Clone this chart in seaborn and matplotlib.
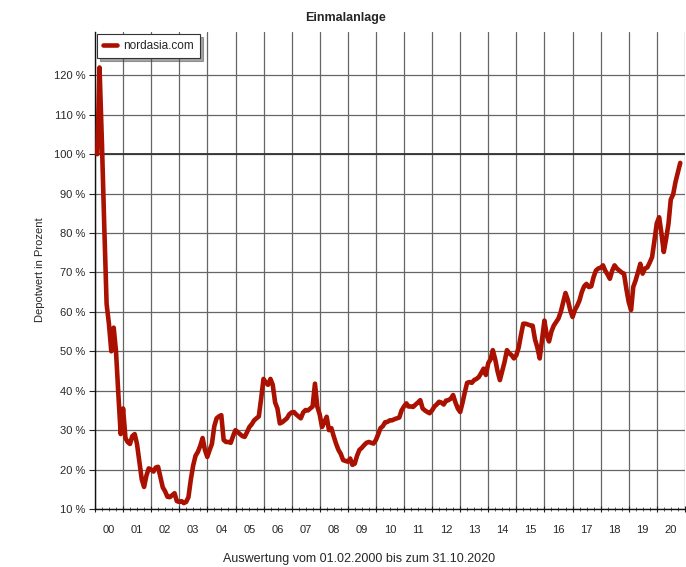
import numpy as np
import pandas as pd
import matplotlib
matplotlib.use("Agg")
import matplotlib.pyplot as plt
import matplotlib.dates as mdates
from matplotlib.ticker import FuncFormatter, NullFormatter
import seaborn as sns

# monthly values (Depotwert in %), month ends from 31.01.2000 to 31.10.2020
v2000 = [100, 122, 103, 82, 62, 57, 50, 56, 50, 39, 29]
v2001 = [35.5, 28, 27, 26.5, 28.5, 29, 26.5, 22, 17.5, 15.6, 18.5, 20.3]
v2002 = [20, 19.5, 20.5, 20.7, 18.2, 15.5, 14.5, 13.1, 13, 13.5, 14, 12]
v2003 = [11.8, 12, 11.5, 11.8, 13, 17.5, 21, 23.5, 24.5, 26, 28, 25]
v2004 = [23.2, 25, 26.5, 31, 33, 33.5, 33.8, 27.5, 27, 27, 26.8, 28.5]
v2005 = [30, 29.5, 29, 28.5, 28.3, 29.5, 30.8, 31.5, 32.5, 33, 33.5, 38]
v2006 = [43, 42, 41.5, 43, 41.5, 37, 35.5, 31.7, 32, 32.5, 33, 34]
v2007 = [34.5, 34.6, 34, 33.5, 33, 34.5, 35.1, 35, 35.5, 36, 41.8, 36]
v2008 = [34, 30.8, 32, 33.4, 30, 30.5, 28.5, 26.6, 25, 24, 22.4, 22.2]
v2009 = [22, 22.8, 21.2, 21.5, 23.5, 25, 25.5, 26.2, 26.8, 27, 26.8, 26.6]
v2010 = [27.5, 29, 30.5, 31, 32, 32.1, 32.5, 32.5, 32.8, 33, 33.2, 35]
v2011 = [36, 36.8, 36, 36, 35.9, 36.5, 37, 37.6, 35.5, 35, 34.6, 34.3]
v2012 = [35, 36, 36.5, 37.2, 37, 36.5, 37.5, 37.6, 38, 38.9, 37, 35.5]
v2013 = [34.6, 37, 39.5, 42, 42.2, 42, 42.7, 43, 43.5, 44.5, 45.6, 44]
v2014 = [47, 48, 50.3, 48, 45, 42.7, 45, 47.3, 50.3, 49.5, 49, 48.2]
v2015 = [49, 51, 54, 57, 57, 56.8, 56.6, 56.5, 53, 51, 48.2, 53]
v2016 = [57.8, 54, 52.5, 55, 56.5, 57.4, 58.3, 60, 62.5, 64.8, 63, 60.5]
v2017 = [58.7, 60.5, 61.5, 62.9, 65, 66.5, 67.1, 66.3, 66.5, 68.8, 70.5, 71]
v2018 = [71.2, 71.8, 70.5, 69.5, 68.4, 70.5, 71.8, 71, 70.5, 70, 69.7, 65.9]
v2019 = [62.5, 60.5, 66.3, 68, 70, 72.2, 69.7, 71, 71.3, 72.5, 73.9, 78]
v2020 = [82.5, 84, 80, 75.2, 78.5, 82.3, 88.5, 89.8, 93, 95.4, 97.8]

values = (v2000 + v2001 + v2002 + v2003 + v2004 + v2005 + v2006 + v2007 + v2008
          + v2009 + v2010 + v2011 + v2012 + v2013 + v2014 + v2015 + v2016
          + v2017 + v2018 + v2019 + v2020)
dates = pd.date_range("2000-01-31", "2020-10-31", freq="ME")
df = pd.DataFrame({"Datum": dates, "Depotwert": values})

y_ticks = list(range(10, 130, 10))

sns.set_style("white")
plt.rcParams["font.family"] = ["Liberation Sans", "DejaVu Sans"]

fig = plt.figure(figsize=(6.86, 5.67), dpi=100)
ax = fig.add_axes([95 / 686, 1 - 509 / 567, 590 / 686, (509 - 32) / 567])

sns.lineplot(data=df, x="Datum", y="Depotwert", ax=ax, color="#aa1100",
             lw=3.3, label="nordasia.com", solid_capstyle="round", zorder=3)

# y axis
ax.set_ylim(10, 131)
ax.set_yticks(y_ticks)
ax.yaxis.set_major_formatter(FuncFormatter(lambda v, p: f"{v:.0f} %"))
ax.tick_params(axis="y", which="major", length=4, width=0.8, color="#222",
               labelsize=8, pad=3, left=True)

# x axis: year lines, quarter ticks, labels mid-year
ax.set_xlim(pd.Timestamp("2000-01-01"), pd.Timestamp("2021-01-01"))
ax.xaxis.set_major_locator(mdates.YearLocator(1))
ax.xaxis.set_major_formatter(NullFormatter())
ax.xaxis.set_minor_locator(mdates.MonthLocator(bymonth=[4, 7, 10]))


def year_label(x, pos):
    d = mdates.num2date(x)
    return d.strftime("%y") if d.month == 7 else ""


ax.xaxis.set_minor_formatter(FuncFormatter(year_label))
ax.tick_params(axis="x", which="major", length=4, width=0.8, color="#222",
               bottom=True, direction="inout")
ax.tick_params(axis="x", which="minor", length=3, width=0.6, color="#444",
               bottom=True, labelsize=8, pad=10, direction="inout")

ax.grid(True, which="major", color="#666666", lw=0.9)
ax.axhline(100, color="#333333", lw=1.3, zorder=1)

for s in ["top", "right"]:
    ax.spines[s].set_visible(False)
for s in ["left", "bottom"]:
    ax.spines[s].set_color("#111111")
    ax.spines[s].set_linewidth(1.0)

ax.set_xlabel("")
ax.set_ylabel("")

leg = ax.legend(loc="upper left", fontsize=8.5, frameon=True, fancybox=False,
                shadow=True, framealpha=1, edgecolor="#333333",
                handlelength=1.2, handletextpad=0.5, borderpad=0.5,
                borderaxespad=0.2)
leg.get_frame().set_linewidth(0.8)

fig.text(346 / 686, 1 - 18 / 567, "Einmalanlage", ha="center", va="center",
         fontsize=9, fontweight="bold")
fig.text(40 / 686, 1 - 270 / 567, "Depotwert in Prozent", ha="center",
         va="center", rotation=90, fontsize=8)
fig.text(359 / 686, 1 - 559 / 567, "Auswertung vom 01.02.2000 bis zum 31.10.2020",
         ha="center", va="center", fontsize=9)

fig.savefig("out.png", dpi=100)
